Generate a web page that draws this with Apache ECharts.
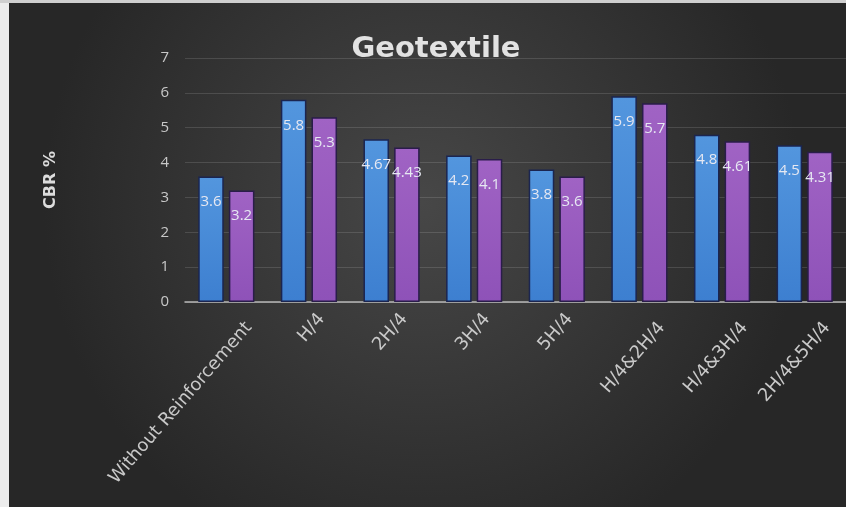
<!DOCTYPE html>
<html>
<head>
<meta charset="utf-8">
<script src="https://cdn.jsdelivr.net/npm/echarts@6/dist/echarts.min.js"></script>
<style>
  html, body { margin: 0; padding: 0; background: #ffffff; }
  #chart { width: 846px; height: 507px; }
</style>
</head>
<body>
<div id="chart"></div>
<script>
// Reinforcement layouts along the x axis
const categories = [
  'Without Reinforcement', 'H/4', '2H/4', '3H/4', '5H/4',
  'H/4&2H/4', 'H/4&3H/4', '2H/4&5H/4'
];
// CBR values (%) for the two bar series
const seriesA = [3.6, 5.8, 4.67, 4.2, 3.8, 5.9, 4.8, 4.5];
const seriesB = [3.2, 5.3, 4.43, 4.1, 3.6, 5.7, 4.61, 4.31];
// Value axis ticks
const yTicks = [0, 1, 2, 3, 4, 5, 6, 7];

const chart = echarts.init(document.getElementById('chart'), null, { renderer: 'canvas' });

const labelStyle = {
  show: true,
  position: 'insideTop',
  distance: 18,
  color: '#e6e8f2',
  fontSize: 15,
  fontFamily: 'Open Sans'
};

// Category label text: longer names are pushed a little further off the axis
const catFont = { color: '#c9c9c9', fontSize: 18, fontFamily: 'DejaVu Sans' };

chart.setOption({
  animation: false,
  backgroundColor: {
    type: 'radial', x: 0.5, y: 0.4, r: 0.75,
    colorStops: [
      { offset: 0, color: '#474747' },
      { offset: 1, color: '#272727' }
    ]
  },
  graphic: [
    { type: 'rect', left: 0, top: 0, shape: { width: 9, height: 507 }, style: { fill: '#ececec' }, z: 100 },
    { type: 'rect', left: 0, top: 0, shape: { width: 846, height: 3 }, style: { fill: '#cfcfcf' }, z: 100 }
  ],
  title: {
    text: 'Geotextile',
    left: 431,
    top: 30,
    textAlign: 'center',
    textStyle: {
      color: '#e2e2e2',
      fontSize: 29,
      fontWeight: 'bold',
      fontFamily: 'DejaVu Sans'
    }
  },
  grid: { left: 185, top: 58, width: 668, height: 244, containLabel: false },
  xAxis: {
    type: 'category',
    data: categories,
    axisLine: { lineStyle: { color: '#b8b8b8', width: 1.5 } },
    axisTick: { show: false },
    axisLabel: {
      rotate: 49,
      interval: 0,
      margin: 3,
      verticalAlign: 'top',
      color: catFont.color,
      fontSize: catFont.fontSize,
      fontFamily: catFont.fontFamily,
      formatter: v => v.length > 5 ? `{l|${v}}` : `{s|${v}}`,
      rich: {
        l: Object.assign({ padding: [21, 0, 0, 0] }, catFont),
        s: Object.assign({ padding: [8, 0, 0, 0] }, catFont)
      }
    }
  },
  yAxis: {
    type: 'value',
    min: yTicks[0],
    max: yTicks[yTicks.length - 1],
    interval: 1,
    name: 'CBR %',
    nameLocation: 'middle',
    nameRotate: 90,
    nameGap: 126,
    nameTextStyle: { color: '#dcdcdc', fontSize: 16, fontWeight: 'bold', fontFamily: 'DejaVu Sans' },
    axisLine: { show: false },
    axisTick: { show: false },
    axisLabel: { color: '#c8c8c8', fontSize: 15, margin: 16, fontFamily: 'Open Sans' },
    splitLine: { lineStyle: { color: 'rgba(255,255,255,0.13)', width: 1 } }
  },
  series: [
    {
      type: 'bar',
      data: seriesA,
      barGap: '20%',
      barCategoryGap: '32%',
      itemStyle: {
        color: {
          type: 'linear', x: 0, y: 0, x2: 0, y2: 1,
          colorStops: [
            { offset: 0, color: '#5396de' },
            { offset: 1, color: '#3d7fd0' }
          ]
        },
        borderColor: '#1b2550',
        borderWidth: 1.5
      },
      label: labelStyle
    },
    {
      type: 'bar',
      data: seriesB,
      itemStyle: {
        color: {
          type: 'linear', x: 0, y: 0, x2: 0, y2: 1,
          colorStops: [
            { offset: 0, color: '#a063c4' },
            { offset: 1, color: '#8e52b8' }
          ]
        },
        borderColor: '#2a1d4a',
        borderWidth: 1.5
      },
      label: labelStyle
    }
  ]
});
</script>
</body>
</html>
